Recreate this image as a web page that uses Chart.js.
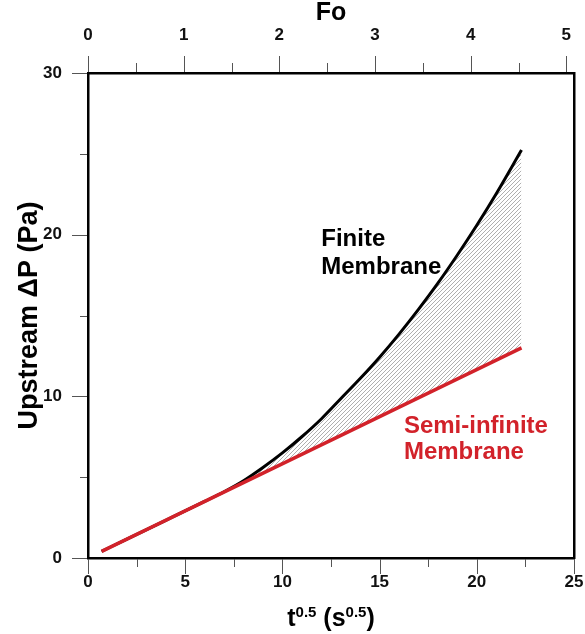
<!DOCTYPE html>
<html><head><meta charset="utf-8">
<script src="https://cdn.jsdelivr.net/npm/chart.js@4"></script>
<style>html,body{margin:0;padding:0;background:#fff}#w{position:relative;width:585px;height:634px}</style>
</head><body><div id="w"><canvas id="c"></canvas></div>
<script>
// ---- data ----
const tFinite = [0.7, 2, 4, 6, 7, 8, 9, 10, 11, 12, 13, 14, 15, 16, 17, 18, 19, 20, 21, 22.3];
const pFinite = [0.41, 1.17, 2.33, 3.5, 4.1, 4.78, 5.6, 6.5, 7.5, 8.6, 9.85, 11.1, 12.42, 13.85, 15.38, 17.0, 18.74, 20.58, 22.53, 25.23];
const tSemi = [0.7, 22.3];
const pSemi = [0.41, 13.0];
const xLabels = [0, 5, 10, 15, 20, 25];
const yLabels = [0, 10, 20, 30];
const foLabels = [0, 1, 2, 3, 4, 5];
const foMax = 5.08;
const finiteLabel = ['Finite', 'Membrane'];
const semiLabel = ['Semi-infinite', 'Membrane'];

const FONT = "'Liberation Sans', Arial, sans-serif";
const RED = '#d2222a';

function hatch() {
  const c = document.createElement('canvas'); c.width = 4; c.height = 4;
  const g = c.getContext('2d');
  g.strokeStyle = '#9a9a9a'; g.lineWidth = 0.8;
  g.beginPath();
  g.moveTo(0, 4); g.lineTo(4, 0);
  g.moveTo(-1, 1); g.lineTo(1, -1);
  g.moveTo(3, 5); g.lineTo(5, 3);
  g.stroke();
  return g.createPattern(c, 'repeat');
}
const isIn = (arr, v) => arr.some(a => Math.abs(a - v) < 1e-6);

const tickPlugin = {
  id: 'outerTicks',
  afterDraw(chart) {
    const ctx = chart.ctx, a = chart.chartArea;
    ctx.save();
    ctx.strokeStyle = '#555'; ctx.lineWidth = 1;
    const sx = chart.scales.x, sy = chart.scales.y, s2 = chart.scales.x2;
    sx.ticks.forEach(t => {
      const p = Math.round(sx.getPixelForValue(t.value)) + 0.5;
      const L = isIn(xLabels, t.value) ? 16 : 9;
      ctx.beginPath(); ctx.moveTo(p, a.bottom + 1); ctx.lineTo(p, a.bottom + L); ctx.stroke();
    });
    sy.ticks.forEach(t => {
      const p = Math.round(sy.getPixelForValue(t.value)) + 0.5;
      const L = isIn(yLabels, t.value) ? 16 : 8;
      ctx.beginPath(); ctx.moveTo(a.left - 1, p); ctx.lineTo(a.left - L, p); ctx.stroke();
    });
    s2.ticks.forEach(t => {
      const p = Math.round(s2.getPixelForValue(t.value)) + 0.5;
      const L = isIn(foLabels, t.value) ? 17 : 10;
      ctx.beginPath(); ctx.moveTo(p, a.top - 1); ctx.lineTo(p, a.top - L); ctx.stroke();
    });
    ctx.restore();

    // curve labels
    ctx.save();
    ctx.font = 'bold 24px ' + FONT;
    ctx.textAlign = 'left'; ctx.textBaseline = 'alphabetic';
    ctx.fillStyle = '#000';
    let x0 = sx.getPixelForValue(12.0), y0 = sy.getPixelForValue(19.3);
    ctx.fillText(finiteLabel[0], x0, y0);
    ctx.fillText(finiteLabel[1], x0, y0 + 28);
    ctx.fillStyle = RED;
    x0 = sx.getPixelForValue(16.25); y0 = sy.getPixelForValue(7.75);
    ctx.fillText(semiLabel[0], x0, y0);
    ctx.fillText(semiLabel[1], x0, y0 + 26);
    ctx.restore();

    // bottom axis title with superscripts
    ctx.save();
    ctx.fillStyle = '#000';
    ctx.textBaseline = 'alphabetic'; ctx.textAlign = 'left';
    const parts = [['t', 0], ['0.5', 1], [' (s', 0], ['0.5', 1], [')', 0]];
    const big = 'bold 25px ' + FONT, small = 'bold 15px ' + FONT;
    let w = 0;
    parts.forEach(p => { ctx.font = p[1] ? small : big; w += ctx.measureText(p[0]).width; });
    let x = (a.left + a.right) / 2 - w / 2;
    const base = 626;
    parts.forEach(p => {
      ctx.font = p[1] ? small : big;
      ctx.fillText(p[0], x, p[1] ? base - 9 : base);
      x += ctx.measureText(p[0]).width;
    });
    ctx.restore();
  }
};

new Chart(document.getElementById('c'), {
  type: 'line',
  data: {
    datasets: [
      {
        label: 'Semi-infinite Membrane',
        data: tSemi.map((t, i) => ({x: t, y: pSemi[i]})),
        borderColor: RED, borderWidth: 3.5, pointRadius: 0, fill: false
      },
      {
        label: 'Finite Membrane',
        data: tFinite.map((t, i) => ({x: t, y: pFinite[i]})),
        borderColor: '#000', borderWidth: 3, pointRadius: 0,
        cubicInterpolationMode: 'monotone',
        fill: {target: 0, above: hatch(), below: 'rgba(0,0,0,0)'}
      }
    ]
  },
  options: {
    responsive: true, maintainAspectRatio: false, animation: false,
    layout: {padding: 0},
    plugins: {legend: {display: false}, tooltip: {enabled: false}},
    scales: {
      x: {
        type: 'linear', position: 'bottom', min: 0, max: 25,
        grid: {display: false, drawTicks: false},
        border: {display: true, color: '#000', width: 2.5},
        ticks: {stepSize: 2.5, padding: 14, color: '#111', font: {family: FONT, size: 17, weight: 'bold'},
          maxRotation: 0, autoSkip: false,
          callback: v => isIn(xLabels, v) ? String(v) : ''},
        title: {display: false},
        afterFit: s => { s.height = 76; s.paddingLeft = 0; s.paddingRight = 0; }
      },
      x2: {
        type: 'linear', position: 'top', min: 0, max: foMax,
        grid: {display: false, drawTicks: false},
        border: {display: true, color: '#000', width: 2.5},
        ticks: {stepSize: 0.5, includeBounds: false, padding: 27, color: '#111', font: {family: FONT, size: 17, weight: 'bold'},
          maxRotation: 0, autoSkip: false,
          callback: v => isIn(foLabels, v) ? String(Math.round(v)) : ''},
        title: {display: true, text: 'Fo', color: '#000', padding: {top: 1, bottom: 0},
          font: {family: FONT, size: 25, weight: 'bold', lineHeight: 1}},
        afterFit: s => { s.height = 73; s.paddingLeft = 0; s.paddingRight = 0; }
      },
      y: {
        type: 'linear', position: 'left', min: 0, max: 30,
        grid: {display: false, drawTicks: false},
        border: {display: true, color: '#000', width: 2.5},
        ticks: {stepSize: 5, padding: 26, color: '#111', font: {family: FONT, size: 17, weight: 'bold'},
          autoSkip: false,
          callback: v => isIn(yLabels, v) ? String(v) : ''},
        title: {display: true, text: 'Upstream \u0394P (Pa)', color: '#000', padding: {top: 16, bottom: 0},
          font: {family: FONT, size: 27, weight: 'bold', lineHeight: 1}},
        afterFit: s => { s.width = 88; s.paddingTop = 0; s.paddingBottom = 0; }
      },
      y2: {
        type: 'linear', position: 'right', min: 0, max: 30,
        grid: {display: false, drawTicks: false},
        border: {display: true, color: '#000', width: 2.5},
        ticks: {display: false},
        afterFit: s => { s.width = 11; s.paddingTop = 0; s.paddingBottom = 0; }
      }
    }
  },
  plugins: [tickPlugin]
});
</script>
</body></html>
